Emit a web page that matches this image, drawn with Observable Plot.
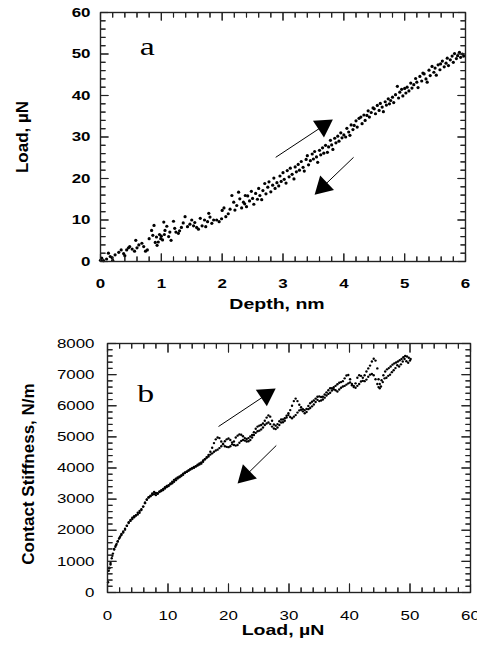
<!DOCTYPE html>
<html><head><meta charset="utf-8">
<script src="https://cdn.jsdelivr.net/npm/d3@7"></script>
<script src="https://cdn.jsdelivr.net/npm/@observablehq/plot@0.6"></script>
<style>
html,body{margin:0;padding:0;background:#fff;}
body{width:477px;height:648px;overflow:hidden;}
.panel{position:relative;width:477px;}
.panel svg{display:block;}
.panel svg.ov{position:absolute;left:0;top:0;pointer-events:none;}
</style></head><body><div id="chart"></div>
<script>
// ---- Panel a: Load (µN) vs Depth (nm), loading + unloading points ----
const depthLoad = [
[0.00,0.3],[0.02,0.8],[0.05,0.2],[0.10,0.6],[0.13,2.0],[0.16,1.2],[0.19,0.9],[0.20,0.3],[0.24,1.6],[0.30,2.2],
[0.34,2.8],[0.38,1.9],[0.40,1.4],[0.43,2.8],[0.46,3.3],[0.48,3.6],[0.52,3.0],[0.56,2.5],[0.58,5.1],[0.60,3.3],
[0.63,4.0],[0.68,4.4],[0.71,3.6],[0.74,2.5],[0.77,2.8],[0.80,5.5],[0.84,7.5],[0.86,6.3],[0.88,8.7],[0.90,4.6],
[0.92,5.9],[0.93,3.9],[0.95,4.7],[0.97,6.5],[0.99,5.5],[1.00,6.1],[1.02,5.2],[1.04,9.5],[1.05,6.5],[1.06,7.5],
[1.09,8.5],[1.12,6.0],[1.14,7.1],[1.16,5.1],[1.20,9.7],[1.22,8.0],[1.24,7.1],[1.28,6.8],[1.30,7.4],[1.33,8.2],
[1.36,9.3],[1.39,10.8],[1.43,8.4],[1.47,9.0],[1.50,10.0],[1.53,8.6],[1.55,9.4],[1.58,8.2],[1.61,7.8],[1.64,10.4],
[1.67,8.6],[1.71,10.0],[1.73,8.4],[1.76,9.6],[1.78,11.6],[1.80,10.7],[1.83,9.2],[1.86,10.0],[1.91,10.0],[1.95,9.6],
[1.99,10.3],[2.00,12.3],[2.03,12.9],[2.06,10.8],[2.10,11.5],[2.13,12.6],[2.16,15.9],[2.19,14.3],[2.21,12.4],[2.24,13.5],
[2.27,16.7],[2.29,15.1],[2.32,12.9],[2.35,14.3],[2.37,13.9],[2.38,15.9],
[2.40,13.2],[2.42,15.8],[2.45,14.6],[2.48,16.9],[2.50,15.2],[2.52,13.8],[2.55,16.4],[2.58,15.0],[2.60,17.6],[2.62,15.9],
[2.65,14.9],[2.67,17.1],[2.70,18.8],[2.72,16.3],[2.75,17.9],[2.77,19.2],[2.80,16.8],[2.83,18.4],[2.85,20.1],[2.87,17.6],
[2.90,19.0],[2.93,18.2],[2.95,20.6],[2.97,19.3],[3.00,21.4],[3.02,19.8],[3.05,18.9],[3.07,21.9],[3.10,20.4],[3.12,22.5],
[3.15,21.0],[3.18,19.9],[3.20,22.8],[3.22,21.6],[3.25,23.4],[3.27,22.0],[3.30,24.1],[3.33,22.7],[3.35,21.8],[3.38,24.6],
[3.40,25.5],[3.42,23.3],[3.45,24.3],[3.48,25.9],[3.50,24.7],[3.52,26.5],[3.55,25.2],[3.57,23.9],[3.60,26.8],[3.62,25.7],
[3.65,27.4],[3.67,26.1],[3.70,28.0],[3.73,26.3],[3.75,27.6],[3.78,29.2],[3.80,28.1],[3.82,27.0],[3.85,29.7],[3.87,28.6],
[3.90,30.2],[3.92,29.0],[3.95,31.0],[3.97,29.8],[4.00,30.5],[4.03,30.0],[4.05,32.1],[4.08,31.2],[4.10,30.4],[4.12,32.9],
[4.15,31.8],[4.17,32.8],[4.20,33.9],[4.22,32.4],[4.25,34.5],[4.28,34.8],[4.30,33.2],[4.33,35.3],[4.35,34.0],[4.38,35.2],
[4.40,36.3],[4.42,34.8],[4.45,35.9],[4.48,37.0],[4.50,36.8],[4.52,35.6],[4.55,37.6],[4.58,36.4],[4.60,38.1],[4.63,37.2],
[4.65,36.1],[4.68,38.5],[4.70,37.7],[4.73,39.2],[4.75,38.0],[4.77,38.8],[4.80,39.6],[4.82,38.3],[4.85,40.2],[4.88,42.2],
[4.90,39.4],[4.92,40.8],[4.95,41.5],[4.97,39.9],[5.00,41.7],[5.02,40.6],[5.04,42.0],[5.07,41.1],[5.10,43.0],[5.12,41.8],
[5.15,42.6],[5.18,44.1],[5.20,43.2],[5.22,41.9],[5.25,44.6],[5.28,43.5],[5.30,45.4],[5.32,45.2],[5.35,44.0],[5.37,43.2],
[5.40,46.1],[5.42,44.8],[5.45,47.0],[5.48,45.6],[5.50,46.6],[5.52,44.9],[5.55,47.4],[5.58,46.2],[5.59,47.6],[5.62,48.3],
[5.65,46.9],[5.68,47.8],[5.70,49.0],[5.72,47.2],[5.75,48.6],[5.78,49.5],[5.80,48.0],[5.82,50.1],[5.85,48.9],[5.87,49.6],
[5.90,50.4],[5.92,49.2],[5.95,50.0],[5.97,49.5]
];

// ---- Panel b: Contact stiffness (N/m) vs Load (µN) ----
const stiffLoading = [
[0.1,330],[0.2,700],[0.3,800],[0.5,900],[0.7,1100],[0.9,1250],[1.1,1380],[1.3,1470],[1.5,1560],[1.7,1650],
[1.9,1730],[2.1,1800],[2.3,1880],[2.6,1960],[2.9,2050],[3.2,2150],[3.5,2260],[3.8,2330],[4.1,2400],[4.4,2450],
[4.7,2470],[5.0,2510],[5.3,2560],[5.6,2650],[5.9,2760],[6.2,2890],[6.5,2990],[6.8,3050],[7.1,3090],[7.4,3140],
[7.7,3160],[8.0,3130],[8.3,3170],[8.6,3250],[8.9,3290],[9.2,3330],[9.5,3380],[9.8,3420],[10.1,3450],[10.4,3500],
[10.7,3560],[11.0,3620],[11.3,3660],[11.6,3700],[11.9,3730],[12.2,3770],[12.5,3820],[12.8,3860],[13.1,3880],[13.4,3920],
[13.7,3950],[14.0,3980],[14.3,4010],[14.6,4050],[14.9,4080],[15.2,4110],[15.5,4140],[15.8,4200],[16.1,4280],[16.4,4350],
[16.7,4420],[17.0,4520],[17.3,4650],[17.6,4800],[17.9,4920],[18.2,4980],[18.5,4960],[18.8,4850],[19.1,4760],[19.4,4700],
[19.7,4680],[20.0,4670],[20.3,4700],[20.6,4760],[20.9,4850],[21.2,4980],[21.5,5040],[21.8,5080],[22.1,5070],[22.4,5020],
[22.7,4960],[23.0,4930],[23.3,4960],[23.6,5010],[23.9,5060],[24.2,5150],[24.5,5260],[24.8,5330],[25.1,5360],[25.4,5380],
[25.7,5430],[26.0,5520],[26.3,5620],[26.6,5690],[26.9,5650],[27.2,5520],[27.5,5400],[27.8,5360],[28.1,5410],[28.4,5500],
[28.7,5560],[29.0,5560],[29.3,5600],[29.6,5680],[29.9,5760],[30.2,5860],[30.5,6000],[30.8,6150],[31.1,6230],[31.4,6150],
[31.7,6030],[32.0,5950],[32.3,5890],[32.6,5860],[32.9,5900],[33.2,5990],[33.5,6080],[33.8,6130],[34.1,6170],[34.4,6230],
[34.7,6290],[35.0,6300],[35.3,6280],[35.6,6290],[35.9,6360],[36.2,6430],[36.5,6500],[36.8,6560],[37.1,6560],[37.4,6600],
[37.7,6640],[38.0,6690],[38.3,6740],[38.6,6760],[38.9,6790],[39.2,6880],[39.5,6970],[39.8,6990],[40.1,6850],[40.4,6660],
[40.7,6600],[41.0,6720],[41.3,6900],[41.6,6980],[41.9,6960],[42.2,6900],[42.5,6980],[42.8,7100],[43.1,7200],[43.4,7290],
[43.7,7420],[44.0,7510],[44.3,7450],[44.6,7200],[44.8,6850],[45.0,6700],[45.3,6820],[45.6,6980],[45.9,7100],[46.2,7170],
[46.5,7210],[46.8,7260],[47.1,7320],[47.4,7360],[47.7,7390],[48.0,7420],[48.3,7460],[48.6,7500],[48.9,7560],[49.2,7600],
[49.5,7580],[49.8,7540],[50.1,7500]
];
const stiffUnloading = [
[50.0,7450],[49.7,7380],[49.4,7430],[49.1,7500],[48.8,7420],[48.5,7330],[48.2,7260],[47.9,7300],[47.6,7210],[47.3,7140],
[47.0,7080],[46.7,7000],[46.4,6960],[46.1,6900],[45.8,6880],[45.5,6760],[45.2,6620],[45.0,6560],[44.8,6600],[44.6,6700],
[44.3,6850],[44.0,6980],[43.7,7020],[43.4,7000],[43.1,6930],[42.8,6840],[42.5,6790],[42.2,6800],[41.9,6780],[41.6,6700],
[41.3,6640],[41.0,6580],[40.7,6640],[40.4,6700],[40.1,6750],[39.8,6720],[39.5,6680],[39.2,6640],[38.9,6620],[38.6,6580],
[38.3,6520],[38.0,6460],[37.7,6500],[37.4,6530],[37.1,6490],[36.8,6420],[36.5,6380],[36.2,6330],[35.9,6260],[35.6,6200],
[35.3,6170],[35.0,6150],[34.7,6190],[34.4,6120],[34.1,6040],[33.8,5980],[33.5,5930],[33.2,5890],[32.9,5800],[32.6,5760],
[32.3,5820],[32.0,5870],[31.7,5850],[31.4,5780],[31.1,5700],[30.8,5650],[30.5,5600],[30.2,5640],[29.9,5700],[29.6,5620],
[29.3,5520],[29.0,5470],[28.7,5460],[28.4,5380],[28.1,5300],[27.8,5250],[27.5,5270],[27.2,5330],[26.9,5410],[26.6,5460],
[26.3,5430],[26.0,5380],[25.7,5300],[25.4,5240],[25.1,5200],[24.8,5180],[24.5,5130],[24.2,5060],[23.9,4980],[23.6,4900],
[23.3,4860],[23.0,4850],[22.7,4880],[22.4,4900],[22.1,4870],[21.8,4810],[21.5,4740],[21.2,4720],[20.9,4740],[20.6,4820],
[20.3,4900],[20.0,4950],[19.7,4920],[19.4,4860],[19.1,4780],[18.8,4700],[18.5,4640],[18.2,4590],[17.9,4560],[17.6,4520],
[17.3,4470],[17.0,4430],[16.7,4370],[16.4,4330],[16.1,4280],[15.8,4240],[15.5,4180],[15.2,4150],[14.9,4110],[14.6,4060],
[14.3,4030],[14.0,4000],[13.7,3970],[13.4,3920],[13.1,3880],[12.8,3840],[12.5,3780],[12.2,3740],[11.9,3700],[11.6,3660],
[11.3,3610],[11.0,3560],[10.7,3510],[10.4,3480],[10.1,3420],[9.8,3390],[9.5,3340],[9.2,3290],[8.9,3260],[8.6,3230],
[8.3,3190],[8.0,3200],[7.7,3230],[7.4,3180],[7.1,3110],[6.8,3060],[6.5,2980],[6.2,2870],[5.9,2760],[5.6,2680],
[5.3,2620],[5.0,2560],[4.7,2480],[4.4,2420],[4.1,2360],[3.8,2300],[3.5,2230],[3.2,2140],[2.9,2020],[2.6,1930],
[2.3,1850],[2.0,1760],[1.7,1640],[1.4,1520],[1.1,1400],[0.8,1180],[0.5,950],[0.3,780]
];

// ---- Axes / tick labels ----
const depthTicks = [0,1,2,3,4,5,6];
const loadTicksA = [0,10,20,30,40,50,60];
const loadTicksB = [0,10,20,30,40,50,60];
const stiffTicks = [0,1000,2000,3000,4000,5000,6000,7000,8000];

// ---- Annotations (data coordinates) ----
const arrowsA = [{x1:2.88,y1:25.1,x2:3.82,y2:34.2},{x1:4.16,y1:25.1,x2:3.52,y2:16.1}];
const arrowsB = [{x1:18.35,y1:5333,x2:27.8,y2:6554},{x1:27.9,y1:4723,x2:21.5,y2:3502}];
const tagA = {text:"a", x:0.77, y:51.8};
const tagB = {text:"b", x:6.3, y:6394};

const SANS = "Liberation Sans, Arial, Helvetica, sans-serif";
const SERIF = "Liberation Serif, Times New Roman, serif";
const W = 477;

// custom tick glyph: a stroke of fixed pixel length pointing "up" before rotation
const tickGlyph = n => ({draw(ctx) { ctx.moveTo(0, 0); ctx.lineTo(0, -n); }});

function buildPanel(cfg) {
  const fw = W - cfg.ml - cfg.mr, fh = cfg.height - cfg.mt - cfg.mb;
  const [x0, x1] = cfg.xDomain, [y0, y1] = cfg.yDomain;
  const kx = fw / (x1 - x0), ky = fh / (y1 - y0);
  const isMajor = (v, arr) => arr.some(t => Math.abs(t - v) < 1e-9);
  const xMinor = d3.range(x0, x1 + 1e-9, cfg.xMinor).filter(v => !isMajor(v, cfg.xTicks));
  const yMinor = d3.range(y0, y1 + 1e-9, cfg.yMinor).filter(v => !isMajor(v, cfg.yTicks));
  // tick anchors on the frame edges; rotation points each tick inward
  const tickPts = (xs, ys) => [
    ...xs.map(v => ({tx: v, ty: y0, rot: 0})),
    ...xs.map(v => ({tx: v, ty: y1, rot: 180})),
    ...ys.map(v => ({tx: x0, ty: v, rot: 90})),
    ...ys.map(v => ({tx: x1, ty: v, rot: -90}))
  ];
  const majorPts = tickPts(cfg.xTicks, cfg.yTicks);
  const minorPts = tickPts(xMinor, yMinor);
  const tickMarks = () => [
    Plot.dot(majorPts, {x: "tx", y: "ty", rotate: "rot", r: 4, symbol: tickGlyph(cfg.major),
      fill: "none", stroke: "#222", strokeWidth: 1.1}),
    Plot.dot(minorPts, {x: "tx", y: "ty", rotate: "rot", r: 4, symbol: tickGlyph(cfg.minor),
      fill: "none", stroke: "#222", strokeWidth: 1.1})
  ];
  // arrows: thin shaft + filled triangular head
  const headR = 7.4;
  const tipDist = 2 * Math.sqrt(Math.PI * headR * headR / (3 * Math.sqrt(3)));
  const heads = cfg.arrows.map(a => {
    const px = (a.x2 - a.x1) * kx, py = -(a.y2 - a.y1) * ky;
    const l = Math.hypot(px, py), ux = px / l, uy = py / l;
    return {...a, cx: a.x2 - ux * tipDist / kx, cy: a.y2 + uy * tipDist / ky,
            angle: Math.atan2(ux, -uy) * 180 / Math.PI};
  });
  const common = {
    width: W, height: cfg.height,
    marginLeft: cfg.ml, marginRight: cfg.mr, marginTop: cfg.mt, marginBottom: cfg.mb,
    x: {domain: cfg.xDomain, axis: null},
    y: {domain: cfg.yDomain, axis: null}
  };
  const main = Plot.plot({
    ...common,
    style: {background: "white", overflow: "visible"},
    marks: [
      Plot.frame({stroke: "#222", strokeWidth: 1.2, fill: "none"}),
      ...cfg.dataMarks,
      Plot.link(heads, {x1: "x1", y1: "y1", x2: "cx", y2: "cy", stroke: "black", strokeWidth: 1}),
      Plot.dot(heads, {x: "cx", y: "cy", r: headR, symbol: "triangle", fill: "black", stroke: "none", rotate: "angle"}),
      Plot.text(cfg.xTicks, {x: d => d, text: d => String(d), frameAnchor: "bottom", lineAnchor: "top",
        dy: cfg.xLabGap, fontSize: 13, fontWeight: cfg.tickWeight, fontFamily: SANS, fill: "black"}),
      Plot.text(cfg.yTicks, {y: d => d, text: d => String(d), frameAnchor: "left", textAnchor: "end",
        dx: -cfg.yLabGap, fontSize: 13, fontWeight: cfg.tickWeight, fontFamily: SANS, fill: "black"}),
      Plot.text([cfg.xLabel], {text: d => d, frameAnchor: "bottom", lineAnchor: "top", textAnchor: "middle",
        dy: cfg.xTitleGap, dx: -6, fontSize: 15, fontWeight: "bold", fontFamily: SANS, fill: "black"}),
      Plot.text([cfg.yLabel], {text: d => d, frameAnchor: "left", textAnchor: "middle", rotate: -90,
        dx: cfg.yTitleDx, dy: cfg.yTitleDy, fontSize: 17, fontWeight: "bold", fontFamily: SANS, fill: "black"}),
      Plot.text([cfg.tag], {x: d => d.x, y: d => d.y, text: d => d.text, fontSize: 26, fontFamily: SERIF, fill: "black"}),
      ...tickMarks()
    ]
  });
  // frame + inward ticks again, layered on top with identical scales
  const overlay = Plot.plot({
    ...common,
    style: {background: "transparent", overflow: "visible"},
    marks: [
      Plot.frame({stroke: "#222", strokeWidth: 1.2, fill: "none"}),
      ...tickMarks()
    ]
  });
  overlay.classList.add("ov");
  const div = document.createElement("div");
  div.className = "panel";
  div.style.height = cfg.height + "px";
  div.append(main, overlay);
  return div;
}

const panelA = buildPanel({
  height: 320, ml: 100, mr: 12, mt: 12, mb: 59,
  xDomain: [0, 6], yDomain: [0, 60], xTicks: depthTicks, yTicks: loadTicksA,
  xMinor: 0.2, yMinor: 2, major: 8, minor: 5,
  xLabGap: 17, yLabGap: 10, xTitleGap: 37, yTitleDx: -78, yTitleDy: 0, tickWeight: "bold",
  xLabel: "Depth, nm", yLabel: "Load, µN", tag: tagA, arrows: arrowsA,
  dataMarks: [Plot.dot(depthLoad, {x: d => d[0], y: d => d[1], r: 1.6, fill: "black", stroke: "none"})]
});
const panelB = buildPanel({
  height: 328, ml: 107, mr: 7, mt: 23, mb: 56,
  xDomain: [0, 60], yDomain: [0, 8000], xTicks: loadTicksB, yTicks: stiffTicks,
  xMinor: 2, yMinor: 200, major: 9, minor: 5,
  xLabGap: 18, yLabGap: 13, xTitleGap: 32, yTitleDx: -79, yTitleDy: 6, tickWeight: "normal",
  xLabel: "Load, µN", yLabel: "Contact Stiffness, N/m", tag: tagB, arrows: arrowsB,
  dataMarks: [
    Plot.dot(stiffLoading, {x: d => d[0], y: d => d[1], r: 1.2, fill: "black", stroke: "none"}),
    Plot.dot(stiffUnloading, {x: d => d[0], y: d => d[1], r: 1.2, fill: "black", stroke: "none"})
  ]
});
const root = document.getElementById("chart");
root.append(panelA, panelB);

// The original figure's lettering is horizontally widened; stretch horizontal text to match.
for (const t of root.querySelectorAll("text")) {
  const m = t.getCTM();
  if (m && Math.abs(m.b) > 0.1) continue; // rotated text keeps its natural length
  const len = t.getComputedTextLength();
  if (len > 0) {
    t.setAttribute("textLength", (len * 1.3).toFixed(1));
    t.setAttribute("lengthAdjust", "spacingAndGlyphs");
  }
}
</script>
</body></html>
